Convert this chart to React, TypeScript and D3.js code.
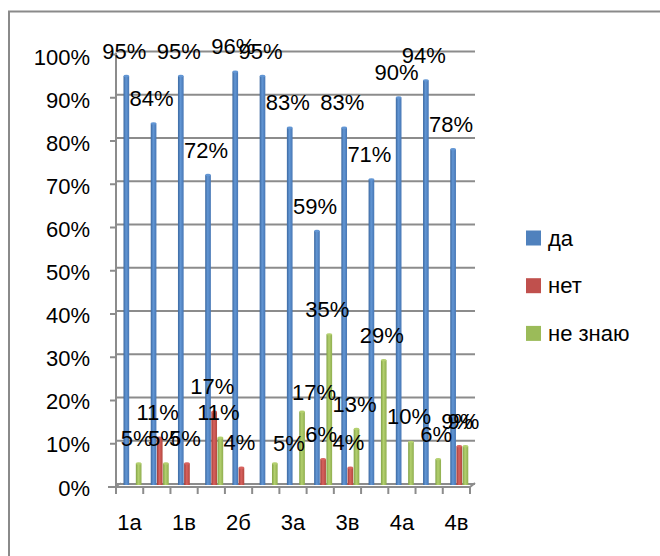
import React from "react";
import * as d3 from "d3";

const categories = ["1а", "1б", "1в", "2а", "2б", "2в", "3а", "3б", "3в", "3г", "4а", "4б", "4в"];
const da: (number | null)[] = [95, 84, 95, 72, 96, 95, 83, 59, 83, 71, 90, 94, 78];
const net: (number | null)[] = [null, 11, 5, 17, 4, null, null, 6, 4, null, null, null, 9];
const neZnayu: (number | null)[] = [5, 5, null, 11, null, 5, 17, 35, 13, 29, 10, 6, 9];
const seriesNames = ["да", "нет", "не знаю"];
const yTicks = [0, 10, 20, 30, 40, 50, 60, 70, 80, 90, 100];
const xLabelEvery = 2;

const seriesValues = [da, net, neZnayu];
const colors = ["#4F81BD", "#C0504D", "#9BBB59"];
const shades = [
  ["#3b68a0", "#6296d4", "#4676b4"],
  ["#9e3b38", "#d8625e", "#b3473f"],
  ["#82a247", "#b3d06e", "#8fae4f"],
];

// manual nudges of a few data labels (layout only)
const labelNudge: Record<string, [number, number]> = {
  "5|2": [16, 5],
  "6|2": [14, 6],
};

const FONT = "'Liberation Sans', Arial, sans-serif";
const FS = 22;

export default function App() {
  const W = 660;
  const H = 556;
  const left = 116;
  const right = 470;
  const backRight = 475;

  const x = d3.scaleBand<string>().domain(categories).range([left, right]).padding(0);
  const sub = d3
    .scaleBand<string>()
    .domain(seriesNames)
    .range([7.5, 25.5])
    .paddingInner(0.08);
  // back wall grid scale and bar (mid-depth) scale
  const yGrid = d3.scaleLinear().domain([0, 100]).range([484, 51.5]);
  const yBar = d3.scaleLinear().domain([0, 100]).range([485, 54.5]);

  const gridColor = "#8c8c8c";

  const bars: React.ReactNode[] = [];
  const labels: React.ReactNode[] = [];
  seriesValues.forEach((vals, si) => {
    vals.forEach((v, ci) => {
      if (v === null) return;
      const bx = (x(categories[ci]) as number) + (sub(seriesNames[si]) as number);
      const bw = sub.bandwidth();
      const top = yBar(v);
      bars.push(
        <g key={`b${si}-${ci}`}>
          <rect x={bx} y={top} width={bw} height={yBar(0) - top} fill={`url(#grad${si})`} />
          <ellipse cx={bx + bw / 2} cy={top} rx={bw / 2} ry={1.2} fill={shades[si][1]} />
        </g>
      );
      const nud = labelNudge[`${ci}|${si}`] || [0, 0];
      labels.push(
        <text
          key={`l${si}-${ci}`}
          x={bx + bw / 2 - 2 + nud[0]}
          y={top - 25 + nud[1]}
          textAnchor="middle"
          dominantBaseline="central"
          fontFamily={FONT}
          fontSize={FS}
          fill="#000"
        >
          {`${v}%`}
        </text>
      );
    });
  });

  const tickXs = categories.map((c) => x(c) as number).concat([right]);

  return (
    <svg
      width={W}
      height={H}
      viewBox={`0 0 ${W} ${H}`}
      style={{ position: "absolute", left: 0, top: 0, background: "#fff" }}
    >
      <defs>
        {shades.map((s, i) => (
          <linearGradient key={i} id={`grad${i}`} x1="0" x2="1" y1="0" y2="0">
            <stop offset="0%" stopColor={s[0]} />
            <stop offset="45%" stopColor={s[1]} />
            <stop offset="100%" stopColor={s[2]} />
          </linearGradient>
        ))}
      </defs>

      {/* outer chart border */}
      <rect x={9} y={11.5} width={W + 20} height={H + 20} fill="#fff" stroke="#8a8a8a" strokeWidth={2} />

      {/* back wall gridlines */}
      {yTicks.map((t) => (
        <g key={`g${t}`}>
          <line x1={left + 1} x2={backRight} y1={yGrid(t)} y2={yGrid(t)} stroke={gridColor} strokeWidth={2} />
          <line x1={left - 6} x2={left} y1={yGrid(t) + 3} y2={yGrid(t) + 3} stroke={gridColor} strokeWidth={2} />
          <text
            x={90}
            y={yBar(t) + 3}
            textAnchor="end"
            dominantBaseline="central"
            fontFamily={FONT}
            fontSize={FS}
            fill="#000"
          >
            {`${t}%`}
          </text>
        </g>
      ))}

      {/* y axis */}
      <line x1={left} x2={left} y1={yGrid(100) + 1} y2={488} stroke={gridColor} strokeWidth={2} />

      {/* floor */}
      <line x1={left - 8} x2={right} y1={487} y2={487} stroke={gridColor} strokeWidth={2} />
      <line x1={right} x2={backRight} y1={487} y2={483} stroke={gridColor} strokeWidth={2} />
      <line x1={left} x2={left + 5} y1={487} y2={483} stroke={gridColor} strokeWidth={1.5} />

      {/* x ticks */}
      {tickXs.map((tx, i) => (
        <line key={`t${i}`} x1={tx} x2={tx} y1={487} y2={494} stroke={gridColor} strokeWidth={2} />
      ))}

      {bars}
      {labels}

      {/* x labels */}
      {categories.map((c, i) =>
        i % xLabelEvery === 0 ? (
          <text
            key={`x${c}`}
            x={(x(c) as number) + x.bandwidth() / 2}
            y={522}
            textAnchor="middle"
            dominantBaseline="central"
            fontFamily={FONT}
            fontSize={FS}
            fill="#000"
          >
            {c}
          </text>
        ) : null
      )}

      {/* legend */}
      {seriesNames.map((s, i) => (
        <g key={`lg${s}`} transform={`translate(526, ${238 + i * 47.7})`}>
          <rect x={0} y={-7.5} width={15} height={15} fill={colors[i]} />
          <text
            x={22}
            y={0}
            dominantBaseline="central"
            fontFamily={FONT}
            fontSize={FS}
            fill="#000"
          >
            {s}
          </text>
        </g>
      ))}
    </svg>
  );
}
